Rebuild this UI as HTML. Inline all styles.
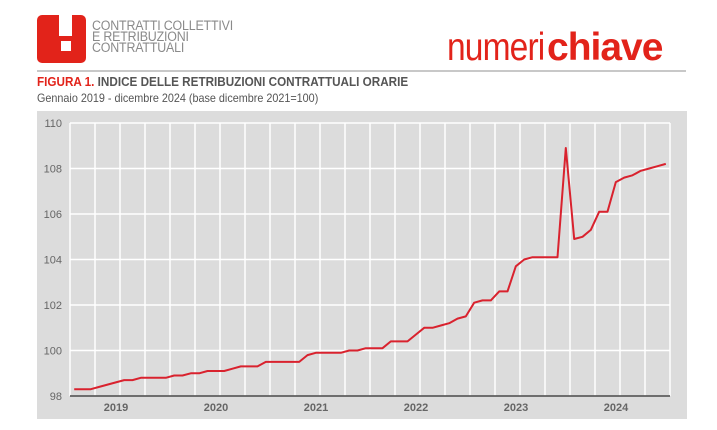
<!DOCTYPE html>
<html><head><meta charset="utf-8"><style>
body{margin:0;background:#fff;width:717px;height:430px;overflow:hidden;font-family:"Liberation Sans",sans-serif;position:relative}
.abs{position:absolute}
</style></head><body>
<div class="abs" style="left:37px;top:15px;width:49px;height:48px;background:#e2231a;border-radius:5px">
  <div class="abs" style="left:22px;top:0;width:13px;height:21px;background:#fff"></div>
  <div class="abs" style="left:24px;top:26px;width:10px;height:10px;background:#fff"></div>
  <div class="abs" style="left:30px;top:20px;width:48px;height:10px;color:#fff;font-size:9px;line-height:10px;transform:rotate(-90deg);text-align:center">statistiche</div>
</div>
<div class="abs" style="left:92px;top:20px;color:#8a8a8a;font-size:13.5px;line-height:11px;letter-spacing:-0.2px;transform:scaleX(0.92);transform-origin:left">CONTRATTI COLLETTIVI<br>E RETRIBUZIONI<br>CONTRATTUALI</div>
<div class="abs" style="left:447px;top:28px;font-size:39px;line-height:40px;color:#e2231a;letter-spacing:-1px"><span style="font-weight:300;transform:scaleX(0.86);display:inline-block;transform-origin:left;width:100px">numeri</span><span style="font-weight:bold">chiave</span></div>
<div class="abs" style="left:37px;top:70px;width:649px;height:2px;background:#c8c8c8"></div>
<div class="abs" style="left:37px;top:74px;font-size:13px;font-weight:bold;color:#555;transform:scaleX(0.9);transform-origin:left;white-space:nowrap"><span style="color:#e2231a">FIGURA 1.</span> INDICE DELLE RETRIBUZIONI CONTRATTUALI ORARIE</div>
<div class="abs" style="left:37px;top:91px;font-size:12px;color:#555;transform:scaleX(0.9);transform-origin:left;white-space:nowrap">Gennaio 2019 - dicembre 2024 (base dicembre 2021=100)</div>
<svg class="abs" style="left:0;top:0" width="717" height="430">
<rect x="37" y="111" width="650" height="308" fill="#dcdcdc"/>
<g id="grid"></g><g id="axes"></g><path id="line" fill="none" stroke="#d9222e" stroke-width="2" stroke-linejoin="round"/>
</svg>
<script>
const values=[98.3,98.3,98.3,98.4,98.5,98.6,98.7,98.7,98.8,98.8,98.8,98.8,
98.9,98.9,99.0,99.0,99.1,99.1,99.1,99.2,99.3,99.3,99.3,99.5,
99.5,99.5,99.5,99.5,99.8,99.9,99.9,99.9,99.9,100.0,100.0,100.1,
100.1,100.1,100.4,100.4,100.4,100.7,101.0,101.0,101.1,101.2,101.4,101.5,
102.1,102.2,102.2,102.6,102.6,103.7,104.0,104.1,104.1,104.1,104.1,108.9,
104.9,105.0,105.3,106.1,106.1,107.4,107.6,107.7,107.9,108.0,108.1,108.2];
const years=["2019","2020","2021","2022","2023","2024"];
const yTicks=[98,100,102,104,106,108,110];
const NS="http://www.w3.org/2000/svg";
const X0=70,X1=670,Y0=396,Y1=123,VMIN=98,VMAX=110,N=values.length;
const xm=i=>X0+(i+0.5)*(X1-X0)/N;
const xb=i=>X0+i*(X1-X0)/N;
const y=v=>Y0-(v-VMIN)/(VMAX-VMIN)*(Y0-Y1);
const grid=document.getElementById('grid'),axes=document.getElementById('axes');
function mk(tag,at,parent){const e=document.createElementNS(NS,tag);for(const k in at)e.setAttribute(k,at[k]);parent.appendChild(e);return e;}
yTicks.forEach(t=>{
 const l=mk('line',{x1:X0,x2:X1,y1:y(t),y2:y(t),stroke:'#fff','stroke-width':1.5},grid);
 
 
 const tx=mk('text',{x:62,y:y(t)+4,'text-anchor':'end','font-size':11,fill:'#666','font-family':'Liberation Sans'},axes);
 tx.textContent=t;
 
 
});
for(let q=0;q<=N/3;q++){
 const l=mk('line',{x1:xb(q*3),x2:xb(q*3),y1:Y1,y2:Y0,stroke:'#fff','stroke-width':1.5},grid);
 
 
}
years.forEach((yr,k)=>{
 const tx=mk('text',{x:xb(k*12+6)-4,y:411,'text-anchor':'middle','font-size':11,'font-weight':'bold',fill:'#666','font-family':'Liberation Sans'},axes);
 tx.textContent=yr;
 
 
});
const ax=mk('line',{x1:X0,x2:X1,y1:Y0,y2:Y0,stroke:'#444','stroke-width':1.5},axes);


document.getElementById('line').setAttribute('d',values.map((v,i)=>(i?'L':'M')+xm(i).toFixed(1)+','+y(v).toFixed(1)).join(''));
</script>
</body></html>
